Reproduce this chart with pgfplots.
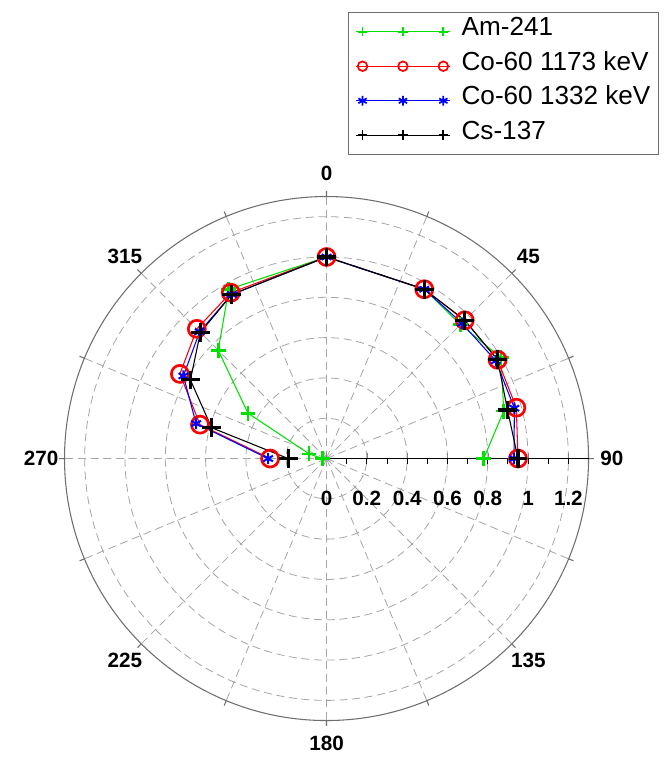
\documentclass[border=0pt]{standalone}
\usepackage{pgfplots}
\pgfplotsset{compat=1.18}
\usepgfplotslibrary{polar}
\usepackage{fontspec}
\setmainfont{Liberation Sans}
\definecolor{amgreen}{RGB}{0,225,0}
\definecolor{gridgray}{RGB}{165,165,165}
\definecolor{circgray}{RGB}{110,110,110}
\begin{document}
\begin{tikzpicture}
\path[use as bounding box] (-244.9pt,-224.6pt) rectangle (254.6pt,343.9pt);
\begin{polaraxis}[
  at={(0,0)}, anchor=center,
  scale only axis, width=393pt, height=393pt,
  ymin=0, ymax=1.3,
  clip=false,
  x filter/.expression={90-x},
  xtick={0,45,90,135,180,225,270,315},
  xticklabels={90,45,0,315,270,225,180,135},
  minor xtick={22.5,67.5,112.5,157.5,202.5,247.5,292.5,337.5},
  ytick={0,0.2,0.4,0.6,0.8,1.0,1.2},
  yticklabels={0,0.2,0.4,0.6,0.8,1,1.2},
  xmajorgrids, xminorgrids, ymajorgrids,
  major grid style={gridgray, dash pattern=on 6pt off 3.5pt, line width=0.6pt},
  minor grid style={gridgray, dash pattern=on 6pt off 3.5pt, line width=0.6pt},
  axis line style={circgray, line width=0.8pt},
  x tick style={circgray, line width=0.8pt},
  major tick length=4pt, minor tick length=4pt,
  /pgf/number format/assume math mode=true,
  xticklabel style={font=\bfseries\fontsize{15.5}{16}\selectfont, anchor=center, shift={(\tick:17.5pt)}},
  yticklabel style={font=\bfseries\fontsize{15.5}{16}\selectfont, anchor=north, yshift=-21pt},
  legend style={at={(axis description cs:1.1345,1.3525)}, anchor=north east,
    draw=circgray, line width=0.8pt, fill=white,
    font=\fontsize{19.6}{20}\selectfont,
    inner xsep=5pt, inner ysep=7pt, row sep=10.9pt, column sep=7.5pt,
    nodes={inner sep=1pt, text height=9.4pt, text depth=3.6pt}},
  legend cell align=left,
  legend image code/.code={
    \draw[#1, line width=1pt] (0pt,0pt) -- (70pt,0pt);
    \draw[#1, mark size=3.6pt, mark options={line width=1.3pt}] plot[only marks] coordinates {(4.7pt,0pt) (35pt,0pt) (65.3pt,0pt)};
  },
]
\addplot[amgreen, line width=0.8pt, mark=+, mark size=5.6pt, mark options={line width=2pt}] coordinates {
 (270,0.02) (285,0.09) (300,0.45) (315,0.76) (330,0.97) (0,1.0) (30,0.97) (45,0.94) (60,1.0) (75,0.91) (90,0.78)};
\addlegendentry{Am-241}
\addplot[red, line width=0.8pt, mark=o, mark size=6.4pt, mark options={line width=2pt}] coordinates {
 (270,0.28) (285,0.65) (300,0.84) (315,0.91) (330,0.95) (0,1.0) (30,0.97) (45,0.97) (60,0.98) (75,0.975) (90,0.95)};
\addlegendentry{Co-60 1173 keV}
\addplot[blue, line width=0.8pt, mark=asterisk, mark size=4.2pt, mark options={line width=1.5pt}] coordinates {
 (270,0.29) (285,0.67) (300,0.82) (315,0.89) (330,0.94) (0,1.0) (30,0.97) (45,0.95) (60,0.97) (75,0.965) (90,0.93)};
\addlegendentry{Co-60 1332 keV}
\addplot[black, line width=0.8pt, mark=+, mark size=7pt, mark options={line width=2.3pt}] coordinates {
 (270,0.19) (285,0.59) (300,0.78) (315,0.885) (330,0.94) (0,1.0) (30,0.97) (45,0.97) (60,0.98) (75,0.93) (90,0.95)};
\addlegendentry{Cs-137}
\draw[black, line width=0.8pt] (axis cs:0,0) -- (axis cs:0,1.3);
\pgfplotsinvokeforeach{0.1,0.2,0.3,0.4,0.5,0.6,0.7,0.8,0.9,1.0,1.1,1.2}{
  \draw[black, line width=0.7pt] (axis cs:0,#1) -- ++(0pt,-3.75pt);
}
\end{polaraxis}
\end{tikzpicture}
\end{document}
